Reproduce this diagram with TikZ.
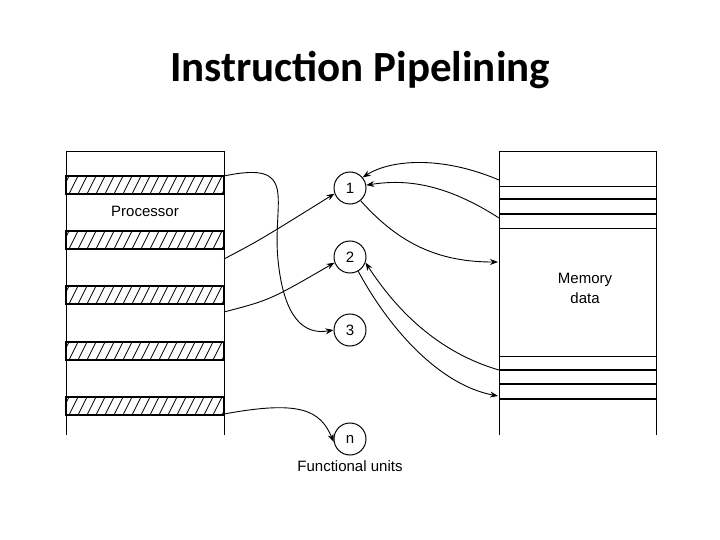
\documentclass[tikz,border=0pt]{standalone}
\usepackage{fontspec}
\setmainfont{Liberation Sans}
\newfontfamily\titlefont{Carlito}
\usetikzlibrary{arrows.meta,positioning}

\begin{document}
\begin{tikzpicture}[x=1pt,y=-1pt,>={Stealth[length=8pt,width=6pt]},line width=0.8pt,
 unit/.style={circle,draw,line width=1pt,minimum size=32pt,inner sep=0pt,font=\fontsize{15}{18}\selectfont},
 band/.style={draw,line width=1.1pt},
 conn/.style={->,line width=0.9pt}]
\useasboundingbox (0,0) rectangle (720,540);
%title
  \node[font=\titlefont\bfseries\fontsize{43}{50}\selectfont] (title) at (360,70) {Instruction Pipelining};
%processor
  \draw (66,435) -- (66,151) -- (224,151) -- (224,435);
  \foreach \y in {176,231,286,342,397}{
    \begin{scope}
      \clip (66,\y) rectangle (224,\y+18);
      \foreach \x in {60,69,...,230}
        \draw[line width=0.7pt] (\x,\y+18) -- (\x+9,\y);
    \end{scope}
    \draw[band] (66,\y) rectangle (224,\y+18);
  }
  \node[font=\fontsize{15}{18}\selectfont] (proc) at (145,211) {Processor};
  \coordinate (p1) at (224,176);
  \coordinate (p2) at (224,259);
  \coordinate (p3) at (224,312);
  \coordinate (p4) at (224,414);
%memory
  \draw (499,435) -- (499,151) -- (656,151) -- (656,435);
  \foreach \y/\w in {186/0.6,199/1.1,214/1.1,228/0.7,356/0.6,370/1.1,384/1.1,399/1.1}
    \draw[line width=\w pt] (499,\y) -- (656,\y);
  \node[font=\fontsize{15}{20}\selectfont,align=center] (mem) at (585,288) {Memory\\data};
  \coordinate (m1) at (499,180);
  \coordinate (m2) at (499,218);
  \coordinate (m3) at (498,262);
  \coordinate (m4) at (499,370);
  \coordinate (m5) at (498,396);
%functional units
  \node[unit] (1) at (350,188) {1};
  \node[unit] (2) at (350,257) {2};
  \node[unit] (3) at (350,330) {3};
  \node[unit] (n) at (350,439) {n};
  \node[font=\fontsize{15}{18}\selectfont,below=1pt of n] (fu) {Functional units};
%paths
  \draw[conn] (p1) .. controls (300,160) and (272,200) .. (278,260)
    .. controls (284,320) and (305,335) .. (3.west);
  \draw[conn] (p2) .. controls (260,240) .. (1.-160);
  \draw[conn] (p3) .. controls (270,300) .. (2.-160);
  \draw[conn] (p4) .. controls (300,400) and (320,410) .. (n.-170);
  \draw[conn] (m1) .. controls (440,155) and (390,160) .. (1.40);
  \draw[conn] (m2) .. controls (440,180) and (400,180) .. (1.10);
  \draw[conn] (1.-50) .. controls (400,245) and (440,262) .. (m3);
  \draw[conn] (m4) .. controls (430,350) and (390,300) .. (2.-20);
  \draw[conn] (2.-60) .. controls (390,330) and (440,385) .. (m5);
\end{tikzpicture}
\end{document}
